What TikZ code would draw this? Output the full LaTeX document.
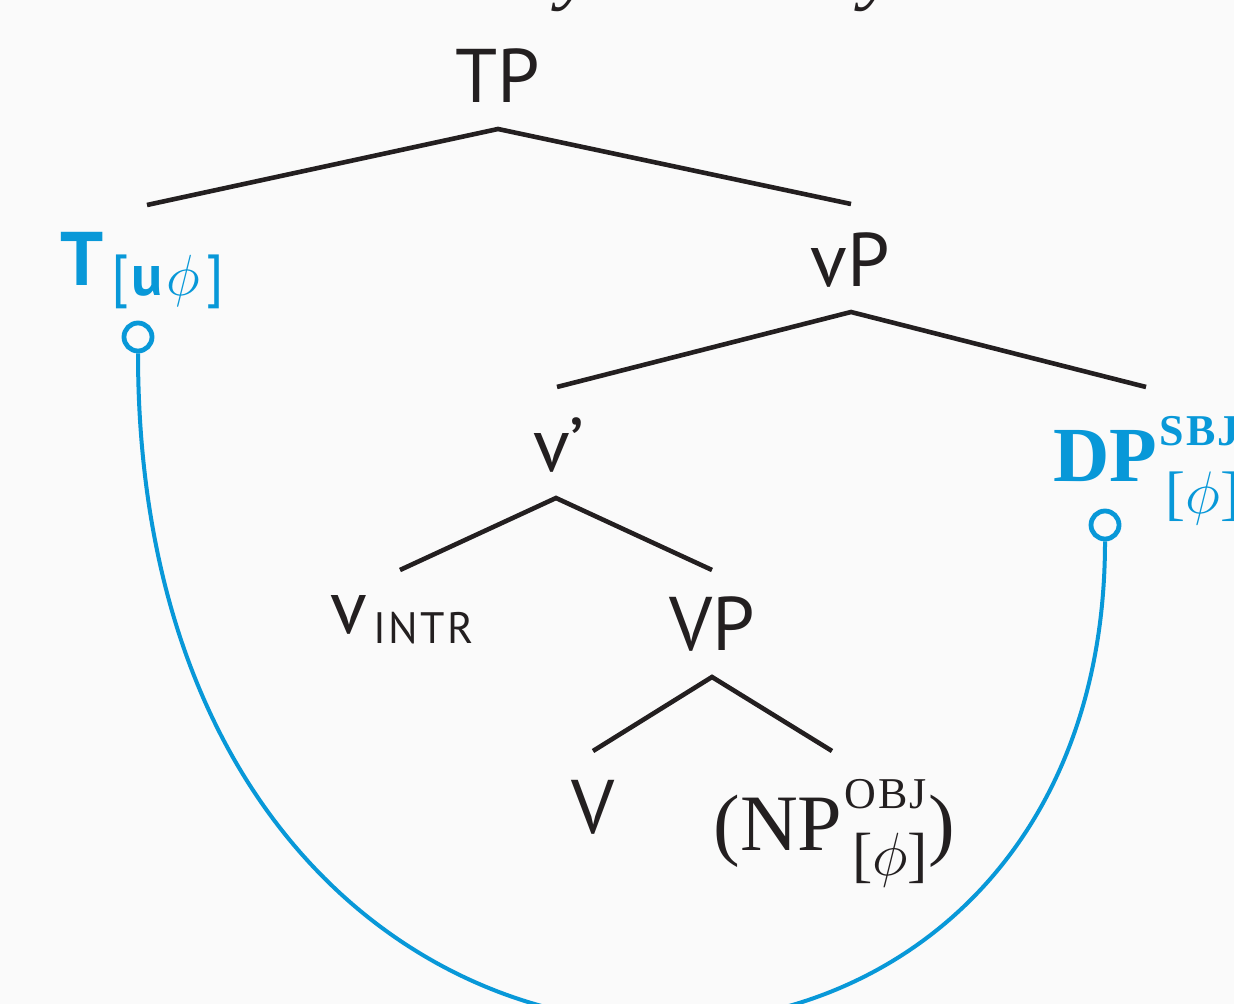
\documentclass[tikz,border=0pt]{standalone}
\usepackage{fontspec}
\setmainfont{Liberation Serif}
\newfontfamily\labfont{PT Sans}
% math italic at any size
\DeclareFontShape{OML}{cmm}{m}{it}{<-7>cmmi5<7-10>cmmi7<10-12>cmmi10<12->cmmi12}{}
\definecolor{ink}{RGB}{35,31,32}
\definecolor{agree}{RGB}{8,152,216}
\definecolor{paper}{RGB}{250,250,250}

% superscript and subscript stacked on top of each other
\newcommand\supsubstack[4]{\begingroup
  \setbox0=\hbox{\raisebox{#3}{#1}}\setbox2=\hbox{\raisebox{#4}{#2}}%
  \ifdim\wd0>\wd2 \rlap{\box2}\box0 \else\rlap{\box0}\box2 \fi\endgroup}

\begin{document}
\begin{tikzpicture}[x=0.5pt,y=-0.5pt,
  lab/.style={font=\labfont\fontsize{38}{40}\selectfont, text=ink, inner sep=0pt},
  serif/.style={font=\fontsize{40}{44}\selectfont, text=ink, inner sep=0pt},
  branch/.style={draw=ink, line width=2.3pt},
  agreeline/.style={draw=agree, line width=2pt},
  probe/.style={circle, draw=agree, line width=2.4pt, minimum size=14pt, inner sep=0pt, fill=paper}]
\fill[paper] (0,0) rectangle (1234,1004);
\useasboundingbox (0,0) rectangle (1234,1004);
\clip (0,0) rectangle (1234,1004);

% tail of the line above
\node[serif, font=\itshape\fontsize{40}{44}\selectfont, anchor=base west] (ya) at (558,-5) {y};
\node[serif, font=\itshape\fontsize{40}{44}\selectfont, anchor=base west] (yb) at (861,-5) {y};

% tree labels
\node[lab, anchor=base] (TP) at (498,103) {TP};
\node[lab, text=agree, anchor=base west] (T) at (60,286)
  {\bfseries T\hspace{4pt}\raisebox{-5pt}{\fontsize{29}{29}\selectfont\mdseries[\hspace{1pt}\textbf{u}\hspace{2pt}$\phi$\hspace{3pt}]}};
\node[lab, anchor=base] (vP) at (850,287) {vP};
\node[lab, anchor=base] (vbar) at (559,472) {v’};
\node[serif, text=agree, font=\fontsize{39}{40}\selectfont\bfseries, anchor=base west] (DP) at (1053,481)
  {DP\supsubstack{\hspace{1pt}{\fontsize{22}{22}\selectfont\addfontfeature{LetterSpace=5}SBJ}}
                 {\hspace{4pt}\mdseries\fontsize{30}{30}\selectfont[$\phi$]}{18pt}{-16pt}};
\node[lab, anchor=base west] (vintr) at (330,633)
  {v\hspace{3pt}\raisebox{-5pt}{\fontsize{22}{22}\selectfont\addfontfeature{LetterSpace=6}INTR}};
\node[lab, anchor=base] (VP) at (712,650) {VP};
\node[lab, anchor=base] (V) at (593,833) {V};
\node[serif, anchor=base west] (NP) at (713,850)
  {(NP\supsubstack{\hspace{1pt}{\fontsize{22}{22}\selectfont\addfontfeature{LetterSpace=5}OBJ}}
                  {\hspace{5pt}\fontsize{30.5}{31}\selectfont[$\phi$]}{21pt}{-12.75pt})};

% branch end points
\coordinate (TP-foot) at (498,129);
\coordinate (T-head) at (147,205);
\coordinate (vP-head) at (851,204);
\coordinate (vP-foot) at (851,312);
\coordinate (vbar-head) at (557,387);
\coordinate (DP-head) at (1146,387);
\coordinate (vbar-foot) at (556,498);
\coordinate (vintr-head) at (400,570);
\coordinate (VP-head) at (712,570);
\coordinate (VP-foot) at (712,677);
\coordinate (V-head) at (593,751);
\coordinate (NP-head) at (832,751);

\draw[branch] (T-head) -- (TP-foot) -- (vP-head);
\draw[branch] (vbar-head) -- (vP-foot) -- (DP-head);
\draw[branch] (vintr-head) -- (vbar-foot) -- (VP-head);
\draw[branch] (V-head) -- (VP-foot) -- (NP-head);

% agreement link between probe and goal
\node[probe] (Tc) at (138,337) {};
\node[probe] (Dc) at (1105,525) {};
\draw[agreeline] (Tc.south) .. controls (138,1212) and (1105,1212) .. (Dc.south);
\end{tikzpicture}
\end{document}
